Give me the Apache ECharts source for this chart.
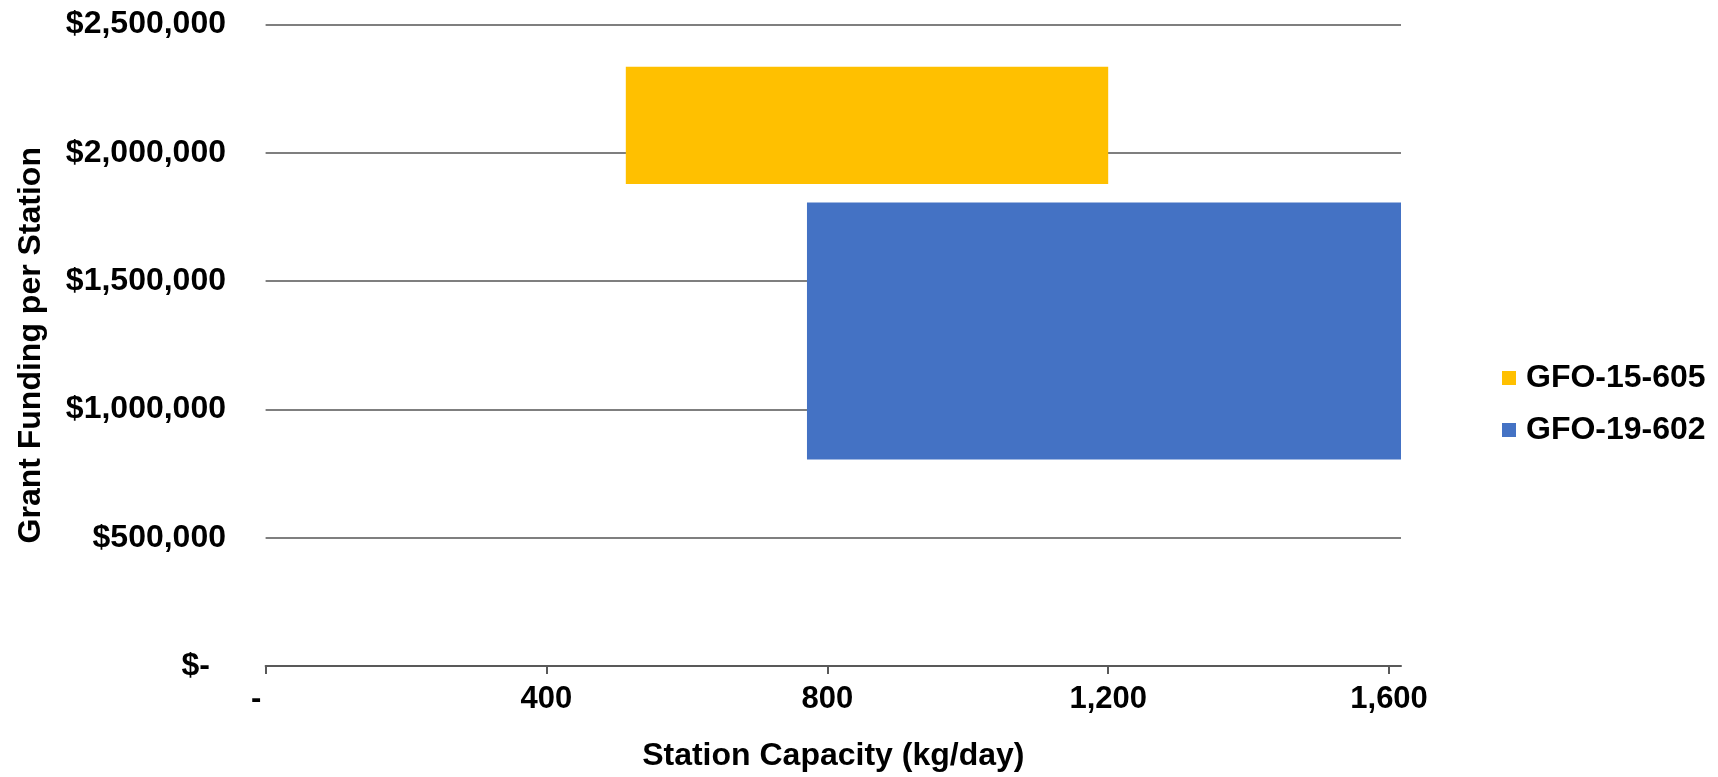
<!DOCTYPE html>
<html>
<head>
<meta charset="utf-8">
<title>Grant Funding per Station vs Station Capacity</title>
<script src="https://cdn.jsdelivr.net/npm/echarts@6/dist/echarts.min.js"></script>
<style>
  html, body { margin: 0; padding: 0; background: #ffffff; }
  #chart { width: 1718px; height: 777px; }
</style>
</head>
<body>
<div id="chart"></div>
<script>
// Funding solicitations and the capacity / funding ranges each one covers
const seriesNames = ['GFO-15-605', 'GFO-19-602'];
const seriesColors = ['#FFC000', '#4472C4'];
const capacityLow = [513, 771];          // kg/day
const capacityHigh = [1200, 1617];       // kg/day
const fundingLow = [1878000, 805000];    // $ per station
const fundingHigh = [2335000, 1806000];  // $ per station

// Axis ranges and tick positions
const capacityMax = 1617;
const capacityTicks = [0, 400, 800, 1200, 1600];
const fundingMax = 2500000;
const fundingStep = 500000;

const FONT = "'Liberation Sans', Arial, sans-serif";

function rangeBox(params, api) {
  const topLeft = api.coord([api.value(0), api.value(3)]);
  const bottomRight = api.coord([api.value(1), api.value(2)]);
  return {
    type: 'rect',
    shape: {
      x: topLeft[0],
      y: topLeft[1],
      width: bottomRight[0] - topLeft[0],
      height: bottomRight[1] - topLeft[1]
    },
    style: { fill: api.visual('color') }
  };
}

const series = seriesNames.map((name, i) => ({
  name: name,
  type: 'custom',
  renderItem: rangeBox,
  itemStyle: { color: seriesColors[i] },
  encode: { x: [0, 1], y: [2, 3] },
  data: [[capacityLow[i], capacityHigh[i], fundingLow[i], fundingHigh[i]]],
  silent: true
}));

const chart = echarts.init(document.getElementById('chart'), null, { renderer: 'canvas' });

chart.setOption({
  animation: false,
  backgroundColor: '#ffffff',
  textStyle: { fontFamily: FONT },
  grid: { left: 265.6, top: 24.5, right: 317, bottom: 105.3 },
  legend: {
    orient: 'vertical',
    left: 1497,
    top: 357,
    itemWidth: 14,
    itemHeight: 14,
    itemGap: 20,
    icon: 'rect',
    data: seriesNames,
    textStyle: { fontFamily: FONT, fontSize: 32, fontWeight: 'bold', color: '#000000', padding: [0, 0, 0, 5] }
  },
  xAxis: {
    type: 'value',
    min: 0,
    max: capacityMax,
    name: 'Station Capacity (kg/day)',
    nameLocation: 'middle',
    nameGap: 74,
    nameTextStyle: { fontFamily: FONT, fontSize: 32, fontWeight: 'bold', color: '#000000' },
    axisLine: { show: true, lineStyle: { color: '#595959', width: 2 } },
    axisTick: { show: true, length: 8, customValues: capacityTicks, lineStyle: { color: '#595959', width: 2 } },
    axisLabel: {
      customValues: capacityTicks,
      margin: 18,
      fontFamily: FONT,
      fontSize: 31,
      fontWeight: 'bold',
      color: '#000000',
      formatter: v => v === 0 ? '{z|-}' : v.toLocaleString('en-US'),
      rich: { z: { fontFamily: FONT, fontSize: 31, fontWeight: 'bold', color: '#000000', padding: [0, 19, 0, 0] } }
    },
    splitLine: { show: false }
  },
  yAxis: {
    type: 'value',
    min: 0,
    max: fundingMax,
    interval: fundingStep,
    name: 'Grant Funding per Station',
    nameLocation: 'middle',
    nameGap: 218,
    nameTextStyle: { fontFamily: FONT, fontSize: 32, fontWeight: 'bold', color: '#000000' },
    axisLine: { show: false },
    axisTick: { show: false },
    axisLabel: {
      margin: 39.6,
      fontFamily: FONT,
      fontSize: 32,
      fontWeight: 'bold',
      color: '#000000',
      formatter: v => v === 0 ? '{z|$-}' : '$' + v.toLocaleString('en-US'),
      rich: { z: { fontFamily: FONT, fontSize: 32, fontWeight: 'bold', color: '#000000', padding: [0, 16, 0, 0] } }
    },
    splitLine: { show: true, lineStyle: { color: '#7f7f7f', width: 2 } }
  },
  series: series
});
</script>
</body>
</html>
